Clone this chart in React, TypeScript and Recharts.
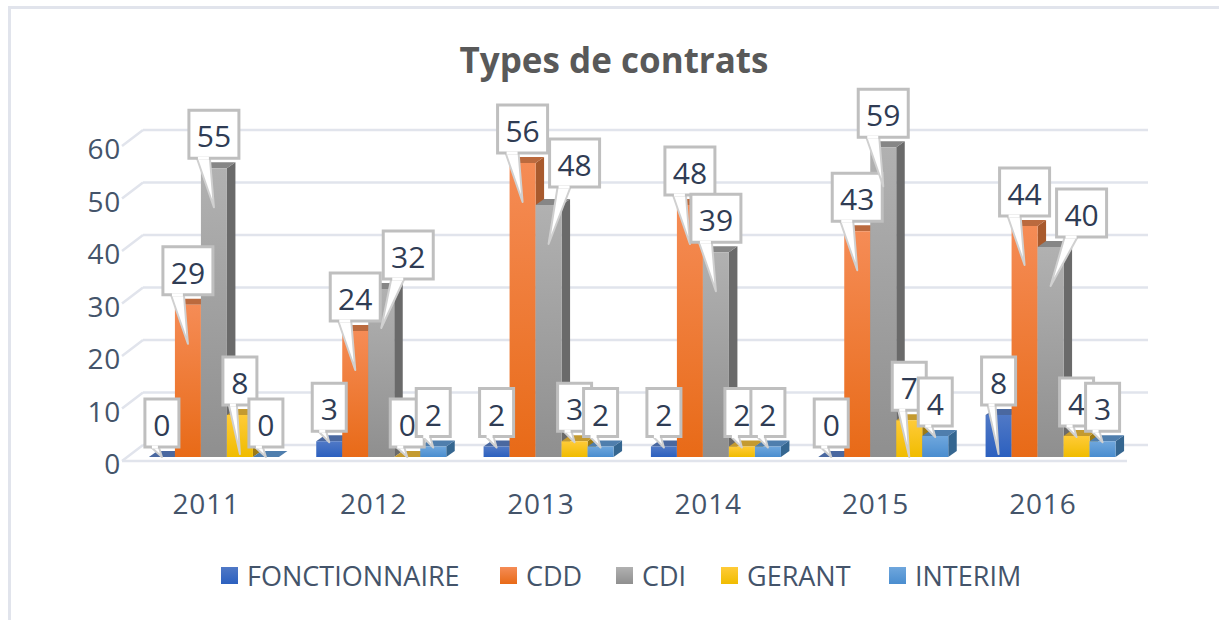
import React from "react";
import { BarChart, Bar, XAxis, YAxis, CartesianGrid, Legend } from "recharts";

const years = ["2011", "2012", "2013", "2014", "2015", "2016"];
const fonctionnaire = [0, 3, 2, 2, 0, 8];
const cdd = [29, 24, 56, 48, 43, 44];
const cdi = [55, 32, 48, 39, 59, 40];
const gerant = [8, 0, 3, 2, 7, 4];
const interim = [0, 2, 2, 2, 4, 3];
const yTicks = [0, 10, 20, 30, 40, 50, 60];

const rows = years.map((year, i) => ({
  year,
  FONCTIONNAIRE: fonctionnaire[i],
  CDD: cdd[i],
  CDI: cdi[i],
  GERANT: gerant[i],
  INTERIM: interim[i],
}));

const W = 1219;
const H = 620;
const margin = { top: 142, right: 86, bottom: 163, left: 129 };
const mainMargin = { top: 142, right: 86, bottom: 162, left: 128 };
const FONT = "'Open Sans', sans-serif";
const DX = 8.5;
const DY = 6;

const styles: Record<string, { top: string; bottom: string; cap: string; side: string; id: string }> = {
  FONCTIONNAIRE: { id: "gF", top: "#5079c6", bottom: "#2c60bf", cap: "#4a68a0", side: "#2f4f8c" },
  CDD: { id: "gD", top: "#f58c56", bottom: "#e86a17", cap: "#bb6a3e", side: "#a85a2d" },
  CDI: { id: "gI", top: "#b1b1b1", bottom: "#8f8f8f", cap: "#868686", side: "#6a6a6a" },
  GERANT: { id: "gG", top: "#ffcb38", bottom: "#f0bc00", cap: "#c49a30", side: "#9c7a16" },
  INTERIM: { id: "gN", top: "#6fa7dd", bottom: "#4a8dcf", cap: "#4f7ead", side: "#356690" },
};
const seriesNames = Object.keys(styles);

// horizontal shift and lift of the callouts moved away from their column, by series then year
const shiftX: Record<string, Record<string, number>> = {
  CDI: { "2012": 27, "2013": 26, "2016": 31 },
};
const shiftY: Record<string, Record<string, number>> = {
  CDI: { "2013": -8 },
};
const legendX: Record<string, number> = {
  FONCTIONNAIRE: 221,
  CDD: 500,
  CDI: 616,
  GERANT: 721,
  INTERIM: 889,
};

const Bar3D = (props: any) => {
  const { x, y, width, height, seriesName } = props;
  const s = styles[seriesName];
  return (
    <g>
      <polygon
        points={`${x + width},${y} ${x + width + DX},${y - DY} ${x + width + DX},${y + height - DY} ${x + width},${y + height}`}
        fill={s.side}
      />
      <polygon
        points={`${x},${y} ${x + DX},${y - DY} ${x + width + DX},${y - DY} ${x + width},${y}`}
        fill={s.cap}
      />
      {height > 0 && <rect x={x} y={y} width={width} height={height} fill={`url(#${s.id})`} />}
    </g>
  );
};

const Callout = (props: any) => {
  const { x, y, width, height, seriesName, payload, value } = props;
  const v = Array.isArray(value) ? value[1] - value[0] : value;
  const two = v >= 10;
  const bw = two ? 50 : 34;
  const bh = 48;
  const cx = x + width / 2;
  const sx = shiftX[seriesName]?.[payload.year] ?? 0;
  const sy = shiftY[seriesName]?.[payload.year] ?? 0;
  const left = cx + sx - bw / 2;
  const topY = y - 10 - bh + sy;
  const bottomY = topY + bh;
  const tipY = v >= 7 ? y + Math.min(39, height) : y + Math.min(1, height);
  const b1 = left + (two ? 8 : 6);
  const b2 = left + (two ? 21 : 14);
  return (
    <g>
      <polygon
        points={`${b1},${bottomY} ${cx},${tipY} ${b2},${bottomY}`}
        fill="#ffffff"
        stroke="#d0d0d0"
        strokeWidth={2}
        strokeLinejoin="round"
      />
      <rect x={left} y={topY} width={bw} height={bh} fill="#ffffff" stroke="#bfbfbf" strokeWidth={3} />
      <line x1={b1 + 1} y1={bottomY} x2={b2 - 1} y2={bottomY} stroke="#ffffff" strokeWidth={3} />
      <text
        x={left + bw / 2}
        y={topY + bh / 2 + 13}
        textAnchor="middle"
        fontFamily={FONT}
        fontSize={30}
        fill="#2f3c54"
      >
        {v}
      </text>
    </g>
  );
};

const GridRow = (p: any) => {
  const y = p.y1;
  const isFloor = Math.abs(y - (H - margin.bottom)) < 1;
  const color = "#e1e4ec";
  return (
    <g key={p.key}>
      <line x1={122} y1={y + 4} x2={143} y2={y - 12} stroke={color} strokeWidth={2.5} />
      <line x1={143} y1={y - 12} x2={1148} y2={y - 12} stroke={color} strokeWidth={2.5} />
      {isFloor && <line x1={122} y1={y + 4} x2={1127} y2={y + 4} stroke={color} strokeWidth={2.5} />}
    </g>
  );
};

const XTick = ({ x, payload }: any) => (
  <text x={x - 6.5} y={H - margin.bottom + 57} textAnchor="middle" fontFamily={FONT} fontSize={28} letterSpacing={0.8} fill="#44546a">
    {payload.value}
  </text>
);

const YTick = ({ y, payload }: any) => (
  <text x={121} y={y + 17} textAnchor="end" fontFamily={FONT} fontSize={28} letterSpacing={0.8} fill="#44546a">
    {payload.value}
  </text>
);

const LegendContent = ({ payload }: any) => (
  <div style={{ position: "relative", width: W, height: 40 }}>
    {(payload ?? []).map((e: any) => (
      <div
        key={e.value}
        style={{
          position: "absolute",
          left: legendX[e.value],
          top: 0,
          display: "flex",
          alignItems: "center",
          height: 40,
          fontFamily: FONT,
          fontSize: 27,
          color: "#44546a",
          whiteSpace: "nowrap",
        }}
      >
        <svg width={17} height={17} style={{ marginRight: 9 }}>
          <rect width={17} height={17} fill={`url(#${styles[e.value].id})`} />
        </svg>
        {e.value}
      </div>
    ))}
  </div>
);

export default function App() {
  return (
    <div style={{ position: "absolute", left: 0, top: 0, width: W, height: H, background: "#fff", overflow: "hidden" }}>
      <div style={{ position: "absolute", left: 8, top: 6, right: 0, height: 2.5, background: "#e1e4ec" }} />
      <div style={{ position: "absolute", left: 8, top: 6, bottom: 0, width: 2.5, background: "#e1e4ec" }} />
      <div style={{ position: "absolute", left: 0, top: 0 }}>
        <BarChart width={W} height={H} data={rows} margin={mainMargin} barCategoryGap="11.9%" barGap={0}>
          <defs>
            {seriesNames.map((n) => (
              <linearGradient key={n} id={styles[n].id} x1="0" y1="0" x2="0" y2="1">
                <stop offset="0" stopColor={styles[n].top} />
                <stop offset="1" stopColor={styles[n].bottom} />
              </linearGradient>
            ))}
          </defs>
          <text x={614} y={73} textAnchor="middle" fontFamily={FONT} fontSize={35} fontWeight={700} fill="#595959">
            Types de contrats
          </text>
          <CartesianGrid vertical={false} horizontal={GridRow as any} />
          <XAxis dataKey="year" height={1} axisLine={false} tickLine={false} tick={<XTick />} interval={0} />
          <YAxis width={1} domain={[0, 60]} ticks={yTicks} axisLine={false} tickLine={false} tick={<YTick />} interval={0} />
          {seriesNames.map((n) => (
            <Bar key={n} dataKey={n} name={n} fill={`url(#${styles[n].id})`} shape={<Bar3D seriesName={n} />} isAnimationActive={false} />
          ))}
          <Legend
            verticalAlign="middle"
            align="center"
            content={<LegendContent />}
            wrapperStyle={{ position: "absolute", left: 0, top: 555, width: W, height: 40 }}
          />
        </BarChart>
      </div>
      <div style={{ position: "absolute", left: 0, top: 0, pointerEvents: "none" }}>
        <BarChart width={W} height={H} data={rows} margin={margin} barCategoryGap="11.9%" barGap={0}>
          <XAxis dataKey="year" hide />
          <YAxis domain={[0, 60]} ticks={yTicks} hide />
          {seriesNames.map((n) => (
            <Bar key={n} dataKey={n} name={n} fill="none" shape={<Callout seriesName={n} />} isAnimationActive={false} />
          ))}
        </BarChart>
      </div>
    </div>
  );
}
